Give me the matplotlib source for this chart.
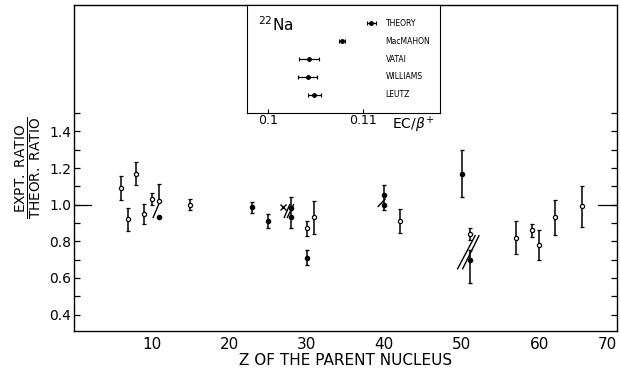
import matplotlib
matplotlib.use('Agg')
import matplotlib.pyplot as plt

plt.rcParams['font.family'] = 'DejaVu Sans'
plt.rcParams['mathtext.fontset'] = 'custom'
plt.rcParams['mathtext.rm'] = 'DejaVu Sans'

# open circles
open_z = [6, 7, 8, 9, 10, 11, 15, 30, 31, 42, 51, 57, 59, 60, 62, 65.5]
open_v = [1.09, 0.92, 1.17, 0.95, 1.03, 1.02, 1.00, 0.87, 0.93, 0.91, 0.84, 0.82, 0.86, 0.78, 0.93, 0.99]
open_lo = [0.065, 0.063, 0.063, 0.056, 0.032, 0.0, 0.031, 0.04, 0.09, 0.066, 0.033, 0.09, 0.037, 0.08, 0.097, 0.11]
open_hi = [0.065, 0.063, 0.063, 0.056, 0.032, 0.09, 0.031, 0.04, 0.09, 0.066, 0.033, 0.09, 0.037, 0.08, 0.097, 0.11]

# filled points
filled_z = [11, 23, 25, 28, 28, 30, 40, 40, 50, 51]
filled_v = [0.935, 0.985, 0.91, 0.98, 0.93, 0.71, 1.05, 1.00, 1.17, 0.70]
filled_lo = [0.0, 0.03, 0.04, 0.05, 0.055, 0.04, 0.045, 0.03, 0.13, 0.13]
filled_hi = [0.0, 0.03, 0.04, 0.06, 0.0, 0.04, 0.055, 0.0, 0.13, 0.05]

cross_z = [27]
cross_v = [0.985]

# slash marks (start z, start v, end z, end v)
slash_z0 = [10.2, 27.1, 27.5, 39.2, 49.45, 50.1]
slash_v0 = [0.93, 0.93, 0.93, 0.99, 0.65, 0.65]
slash_z1 = [11.0, 27.8, 28.3, 40.1, 51.7, 52.2]
slash_v1 = [1.01, 1.0, 1.0, 1.03, 0.83, 0.83]

# inset: 22Na EC/beta+ ratio
inset_labels = ['THEORY', 'MacMAHON', 'VATAI', 'WILLIAMS', 'LEUTZ']
inset_val = [0.1109, 0.1078, 0.1043, 0.1042, 0.1049]
inset_err = [0.0005, 0.0003, 0.00105, 0.001, 0.0007]
inset_row = [5, 4, 3, 2, 1]

fig = plt.figure(figsize=(6.21, 3.77), dpi=100)
ax = fig.add_axes([0.1192, 0.122, 0.8744, 0.8647])

ax.errorbar(open_z, open_v, yerr=[open_lo, open_hi], fmt='o', ms=3, mfc='white',
            mec='black', mew=0.9, ecolor='black', elinewidth=1.1, capsize=1.5, capthick=1.0)
ax.errorbar(filled_z, filled_v, yerr=[filled_lo, filled_hi], fmt='o', ms=3, color='black',
            ecolor='black', elinewidth=1.1, capsize=1.5, capthick=1.0)
ax.plot(cross_z, cross_v, 'x', color='black', ms=5, mew=1.0)
for z0, v0, z1, v1 in zip(slash_z0, slash_v0, slash_z1, slash_v1):
    ax.plot([z0, z1], [v0, v1], color='black', lw=1.0)

ax.plot([0, 2.2], [1.0, 1.0], color='black', lw=0.9)
ax.plot([67.5, 70], [1.0, 1.0], color='black', lw=0.9)

ax.set_xlim(0, 70)
ax.set_ylim(0.31, 2.09)
ax.set_xticks([10, 20, 30, 40, 50, 60, 70])
ax.set_yticks([0.4, 0.6, 0.8, 1.0, 1.2, 1.4])
ax.set_yticklabels(['0.4', '0.6', '0.8', '1.0', '1.2', '1.4'])
ax.set_yticks([0.5, 0.7, 0.9, 1.1, 1.3, 1.5], minor=True)
ax.tick_params(axis='x', length=0, labelsize=11, pad=4)
ax.tick_params(axis='y', which='both', direction='in', right=True, labelsize=10,
               length=4, width=0.9, pad=2)
ax.get_xticklabels()[-1].set_horizontalalignment('right')
for s in ax.spines.values():
    s.set_linewidth(1.0)

ax.set_xlabel('Z OF THE PARENT NUCLEUS', fontsize=11, labelpad=1)
ax.set_ylabel(r'$\frac{\mathrm{EXPT.\ RATIO}}{\mathrm{THEOR.\ RATIO}}$', fontsize=14, labelpad=4)

# inset
ins = fig.add_axes([0.397, 0.7003, 0.3115, 0.2864])
ins.errorbar(inset_val, inset_row, xerr=inset_err, fmt='o', ms=2.5, color='black',
             ecolor='black', elinewidth=0.9, capsize=1.5, capthick=0.8)
for lab, r in zip(inset_labels, inset_row):
    ins.text(0.1124, r, lab, fontsize=5.5, va='center', ha='left')
ins.text(0.06, 0.82, r'$^{22}$Na', transform=ins.transAxes, fontsize=11, va='center')
ins.set_xlim(0.09776, 0.11811)
ins.set_ylim(0, 6)
ins.set_xticks([0.1, 0.11])
ins.set_xticklabels(['0.1', '0.11'])
ins.set_yticks([])
ins.tick_params(axis='x', direction='in', length=3, labelsize=9, pad=1)
ins.text(0.86, -0.02, r'EC/$\beta^{+}$', transform=ins.transAxes, fontsize=10,
         ha='center', va='top')

fig.savefig('out.png', dpi=100)
